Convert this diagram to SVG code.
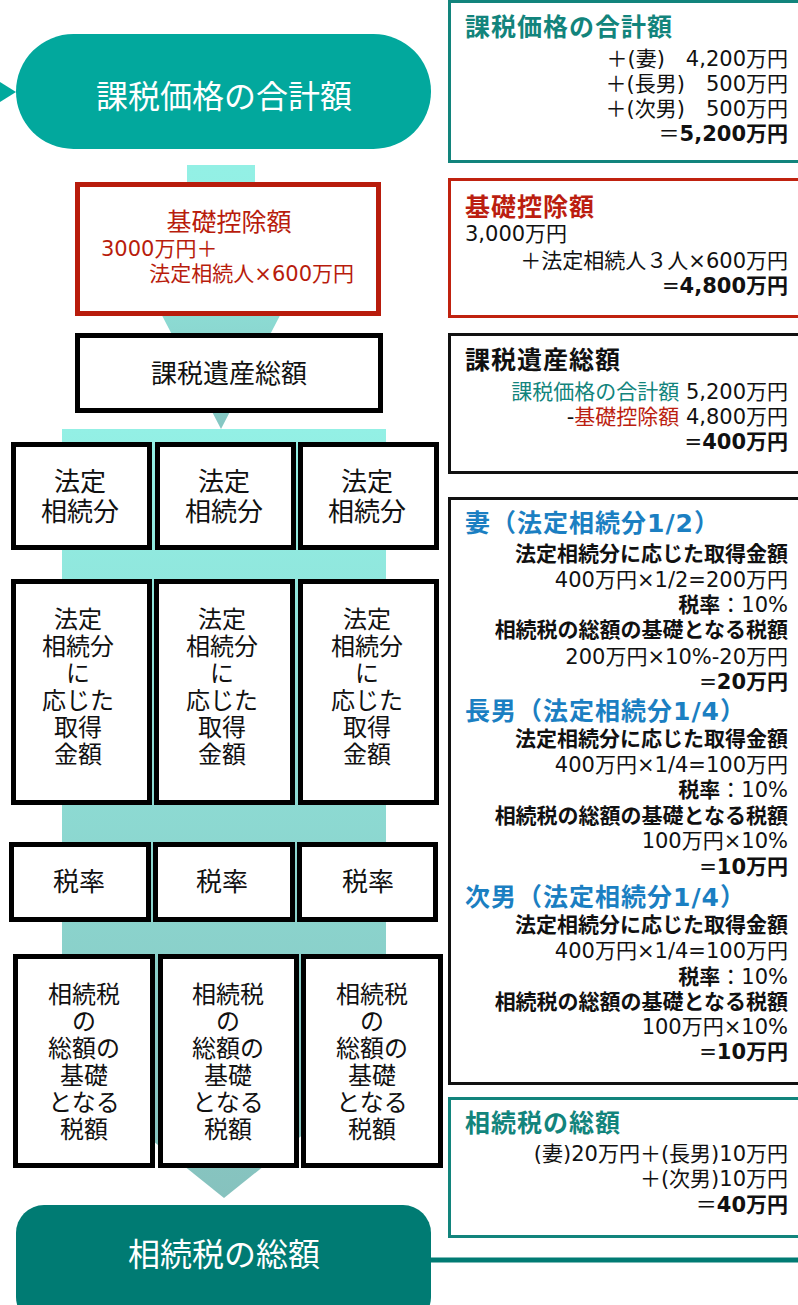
<svg xmlns="http://www.w3.org/2000/svg" width="798" height="1305" viewBox="0 0 798 1305">
<defs>
<style>
text{font-family:"DejaVu Sans","Noto Sans CJK JP",sans-serif;}
.box{fill:#fff;stroke:#000;stroke-width:5;}
.pnl{fill:#fff;stroke-width:3;}
.bl{font-size:24px;fill:#111;text-anchor:middle;}
.bl26{font-size:26px;fill:#111;text-anchor:middle;}
.r{font-size:21px;fill:#111;text-anchor:end;}
.b{font-weight:bold;}
.ttl{font-size:25px;font-weight:bold;letter-spacing:1px;}
.pill{font-size:32px;fill:#fff;text-anchor:middle;}
</style>
<linearGradient id="g1" x1="0" y1="0" x2="0" y2="1">
<stop offset="0" stop-color="#93f0e5"/>
<stop offset="0.15" stop-color="#93efe4"/>
<stop offset="1" stop-color="#85c6c2"/>
</linearGradient>
<linearGradient id="g2" x1="0" y1="0" x2="0" y2="1">
<stop offset="0" stop-color="#93f0e5"/>
<stop offset="1" stop-color="#86c2be"/>
</linearGradient>
</defs>

<g id="connectors">
<polygon points="0,82 16,92 0,102" fill="#00a99d"/>
<polygon points="187,165 255,165 255,300 288,300 221,429 154,300 187,300" fill="url(#g1)"/>
<polygon points="62,429 386,429 386,1068 224,1198 62,1068" fill="url(#g2)"/>
<line x1="425" y1="1260" x2="798" y2="1260" stroke="#007b73" stroke-width="5"/>
</g>

<g id="pill-top">
<rect x="16" y="34" width="415" height="115" rx="57.5" fill="#02a89d"/>
<text class="pill" x="224" y="108">課税価格の合計額</text>
</g>

<g id="kiso-box">
<rect x="77.5" y="184.5" width="301" height="129" fill="#fff" stroke="#b81c0c" stroke-width="5"/>
<text x="229" y="231" font-size="25" fill="#b81c0c" text-anchor="middle">基礎控除額</text>
<text x="101" y="256" font-size="21" fill="#b81c0c">3000万円＋</text>
<text x="354" y="281" font-size="21" fill="#b81c0c" text-anchor="end">法定相続人×600万円</text>
</g>

<g id="kazei-box">
<rect class="box" x="77.5" y="335.5" width="303" height="75"/>
<text class="bl26" x="229" y="383">課税遺産総額</text>
</g>

<g id="share-1"><rect class="box" x="13.5" y="444.5" width="136" height="103"/>
<text class="bl26" x="80" y="491">法定</text><text class="bl26" x="80" y="521">相続分</text></g>
<g id="share-2"><rect class="box" x="157.5" y="444.5" width="136" height="103"/>
<text class="bl26" x="224" y="491">法定</text><text class="bl26" x="224" y="521">相続分</text></g>
<g id="share-3"><rect class="box" x="300.5" y="444.5" width="136" height="103"/>
<text class="bl26" x="367" y="491">法定</text><text class="bl26" x="367" y="521">相続分</text></g>

<g id="acq-1"><rect class="box" x="13.5" y="581.5" width="136" height="221"/>
<text class="bl" x="78"><tspan x="78" y="628">法定</tspan><tspan x="78" y="655">相続分</tspan><tspan x="78" y="682">に</tspan><tspan x="78" y="709">応じた</tspan><tspan x="78" y="736">取得</tspan><tspan x="78" y="763">金額</tspan></text></g>
<g id="acq-2"><rect class="box" x="156.5" y="581.5" width="136" height="221"/>
<text class="bl" x="222"><tspan x="222" y="628">法定</tspan><tspan x="222" y="655">相続分</tspan><tspan x="222" y="682">に</tspan><tspan x="222" y="709">応じた</tspan><tspan x="222" y="736">取得</tspan><tspan x="222" y="763">金額</tspan></text></g>
<g id="acq-3"><rect class="box" x="300.5" y="581.5" width="136" height="221"/>
<text class="bl" x="367"><tspan x="367" y="628">法定</tspan><tspan x="367" y="655">相続分</tspan><tspan x="367" y="682">に</tspan><tspan x="367" y="709">応じた</tspan><tspan x="367" y="736">取得</tspan><tspan x="367" y="763">金額</tspan></text></g>

<g id="rate-1"><rect class="box" x="11.5" y="844.5" width="137" height="75"/>
<text class="bl26" x="79" y="891">税率</text></g>
<g id="rate-2"><rect class="box" x="155.5" y="844.5" width="137" height="75"/>
<text class="bl26" x="222" y="891">税率</text></g>
<g id="rate-3"><rect class="box" x="299.5" y="844.5" width="136" height="75"/>
<text class="bl26" x="368" y="891">税率</text></g>

<g id="tax-1"><rect class="box" x="15.5" y="956.5" width="137" height="209"/>
<text class="bl" x="84"><tspan x="84" y="1003">相続税</tspan><tspan x="84" y="1030">の</tspan><tspan x="84" y="1057">総額の</tspan><tspan x="84" y="1084">基礎</tspan><tspan x="84" y="1111">となる</tspan><tspan x="84" y="1138">税額</tspan></text></g>
<g id="tax-2"><rect class="box" x="160.5" y="956.5" width="136" height="209"/>
<text class="bl" x="228"><tspan x="228" y="1003">相続税</tspan><tspan x="228" y="1030">の</tspan><tspan x="228" y="1057">総額の</tspan><tspan x="228" y="1084">基礎</tspan><tspan x="228" y="1111">となる</tspan><tspan x="228" y="1138">税額</tspan></text></g>
<g id="tax-3"><rect class="box" x="303.5" y="956.5" width="137" height="209"/>
<text class="bl" x="372"><tspan x="372" y="1003">相続税</tspan><tspan x="372" y="1030">の</tspan><tspan x="372" y="1057">総額の</tspan><tspan x="372" y="1084">基礎</tspan><tspan x="372" y="1111">となる</tspan><tspan x="372" y="1138">税額</tspan></text></g>

<g id="pill-bottom">
<rect x="16" y="1205" width="415" height="120" rx="28" fill="#007b73"/>
<text class="pill" x="224" y="1266">相続税の総額</text>
</g>

<g id="panel-total-price">
<rect class="pnl" x="449.5" y="1.5" width="360" height="160" stroke="#12847c"/>
<text class="ttl" x="465" y="36" fill="#12847c">課税価格の合計額</text>
<text class="r" x="788" y="66" xml:space="preserve">＋(妻)　4,200万円</text>
<text class="r" x="788" y="91" xml:space="preserve">＋(長男)　500万円</text>
<text class="r" x="788" y="116" xml:space="preserve">＋(次男)　500万円</text>
<text class="r" x="788" y="141">＝<tspan class="b">5,200万円</tspan></text>
</g>

<g id="panel-kiso">
<rect class="pnl" x="449.5" y="179.5" width="360" height="137" stroke="#c0220f"/>
<text class="ttl" x="465" y="216" fill="#bb1e10">基礎控除額</text>
<text x="465" y="241" font-size="21" fill="#111">3,000万円</text>
<text class="r" x="788" y="268">＋法定相続人３人×600万円</text>
<text class="r" x="788" y="293">=<tspan class="b">4,800万円</tspan></text>
</g>

<g id="panel-kazei">
<rect class="pnl" x="449.5" y="334.5" width="360" height="138" stroke="#111"/>
<text class="ttl" x="465" y="369" fill="#111">課税遺産総額</text>
<text class="r" x="788" y="399"><tspan fill="#12847c">課税価格の合計額</tspan> 5,200万円</text>
<text class="r" x="788" y="424">-<tspan fill="#bb1e10">基礎控除額</tspan> 4,800万円</text>
<text class="r" x="788" y="449">=<tspan class="b">400万円</tspan></text>
</g>

<g id="panel-heirs">
<rect class="pnl" x="449.5" y="498.5" width="360" height="585" stroke="#111"/>
<text class="ttl" x="465" y="532" fill="#1b7fc2">妻（法定相続分1/2）</text>
<text class="r b" x="788" y="561">法定相続分に応じた取得金額</text>
<text class="r" x="788" y="587">400万円×1/2=200万円</text>
<text class="r" x="788" y="612"><tspan class="b">税率</tspan>：10%</text>
<text class="r b" x="788" y="637">相続税の総額の基礎となる税額</text>
<text class="r" x="788" y="664">200万円×10%-20万円</text>
<text class="r" x="788" y="689">=<tspan class="b">20万円</tspan></text>
<text class="ttl" x="465" y="720" fill="#1b7fc2">長男（法定相続分1/4）</text>
<text class="r b" x="788" y="746">法定相続分に応じた取得金額</text>
<text class="r" x="788" y="772">400万円×1/4=100万円</text>
<text class="r" x="788" y="797"><tspan class="b">税率</tspan>：10%</text>
<text class="r b" x="788" y="823">相続税の総額の基礎となる税額</text>
<text class="r" x="788" y="848">100万円×10%</text>
<text class="r" x="788" y="874">=<tspan class="b">10万円</tspan></text>
<text class="ttl" x="465" y="906" fill="#1b7fc2">次男（法定相続分1/4）</text>
<text class="r b" x="788" y="932">法定相続分に応じた取得金額</text>
<text class="r" x="788" y="958">400万円×1/4=100万円</text>
<text class="r" x="788" y="984"><tspan class="b">税率</tspan>：10%</text>
<text class="r b" x="788" y="1009">相続税の総額の基礎となる税額</text>
<text class="r" x="788" y="1034">100万円×10%</text>
<text class="r" x="788" y="1059">=<tspan class="b">10万円</tspan></text>
</g>

<g id="panel-total-tax">
<rect class="pnl" x="449.5" y="1098.5" width="360" height="138" stroke="#12847c"/>
<text class="ttl" x="465" y="1132" fill="#12847c">相続税の総額</text>
<text class="r" x="788" y="1161">(妻)20万円＋(長男)10万円</text>
<text class="r" x="788" y="1186">＋(次男)10万円</text>
<text class="r" x="788" y="1212">＝<tspan class="b">40万円</tspan></text>
</g>
</svg>
